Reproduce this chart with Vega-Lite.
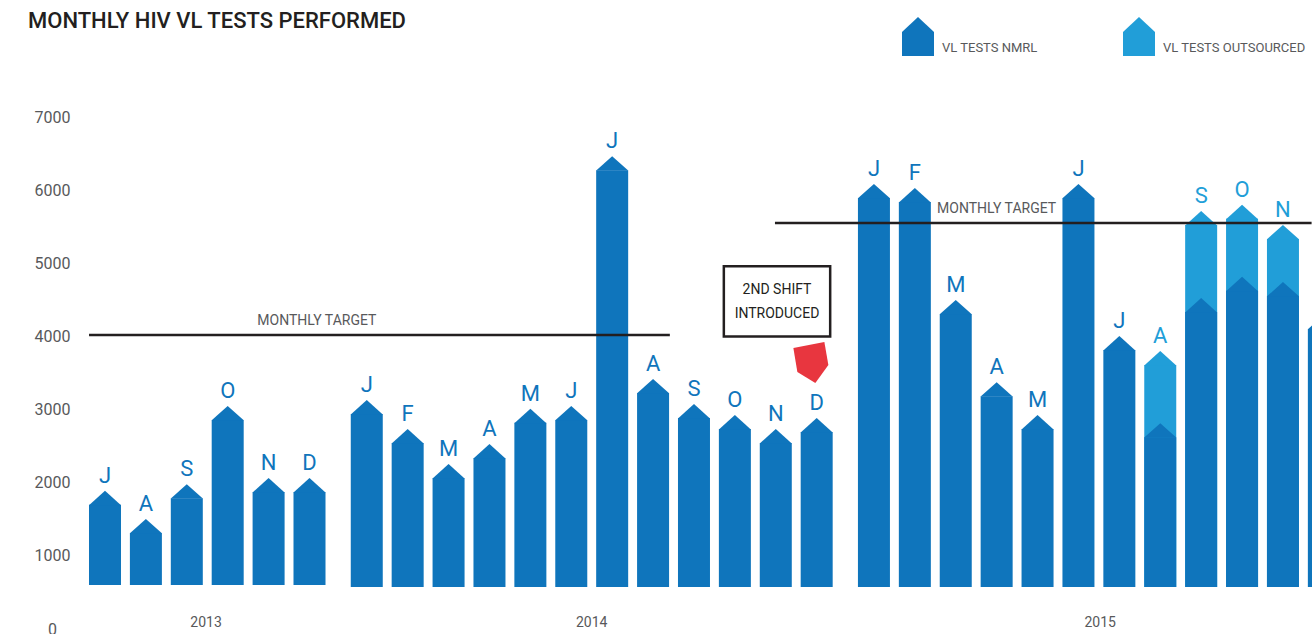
{"$schema":"https://vega.github.io/schema/vega-lite/v6.json","width":1312,"height":634,"padding":0,"autosize":"none","background":"#ffffff",
"config":{"view":{"stroke":null},"font":"Roboto"},
"title":{"text":"MONTHLY HIV VL TESTS PERFORMED","anchor":"start","frame":"group","orient":"top","dx":28,"dy":50,"offset":0,"baseline":"alphabetic","font":"Roboto","fontSize":22,"fontWeight":500,"color":"#231f20"},
"datasets":{
"tests":[
{"year":2015,"slot":25.8,"month":"A","series":"VL TESTS OUTSOURCED","tests":3800,"top":true},
{"year":2015,"slot":26.8,"month":"S","series":"VL TESTS OUTSOURCED","tests":5715,"top":true},
{"year":2015,"slot":27.8,"month":"O","series":"VL TESTS OUTSOURCED","tests":5800,"top":true},
{"year":2015,"slot":28.8,"month":"N","series":"VL TESTS OUTSOURCED","tests":5525,"top":true},
{"year":2013,"slot":0,"month":"J","series":"VL TESTS NMRL","tests":1890,"top":true},
{"year":2013,"slot":1,"month":"A","series":"VL TESTS NMRL","tests":1505,"top":true},
{"year":2013,"slot":2,"month":"S","series":"VL TESTS NMRL","tests":1980,"top":true},
{"year":2013,"slot":3,"month":"O","series":"VL TESTS NMRL","tests":3050,"top":true},
{"year":2013,"slot":4,"month":"N","series":"VL TESTS NMRL","tests":2065,"top":true},
{"year":2013,"slot":5,"month":"D","series":"VL TESTS NMRL","tests":2065,"top":true},
{"year":2014,"slot":6.4,"month":"J","series":"VL TESTS NMRL","tests":3130,"top":true},
{"year":2014,"slot":7.4,"month":"F","series":"VL TESTS NMRL","tests":2735,"top":true},
{"year":2014,"slot":8.4,"month":"M","series":"VL TESTS NMRL","tests":2255,"top":true},
{"year":2014,"slot":9.4,"month":"A","series":"VL TESTS NMRL","tests":2530,"top":true},
{"year":2014,"slot":10.4,"month":"M","series":"VL TESTS NMRL","tests":3010,"top":true},
{"year":2014,"slot":11.4,"month":"J","series":"VL TESTS NMRL","tests":3050,"top":true},
{"year":2014,"slot":12.4,"month":"J","series":"VL TESTS NMRL","tests":6465,"top":true},
{"year":2014,"slot":13.4,"month":"A","series":"VL TESTS NMRL","tests":3420,"top":true},
{"year":2014,"slot":14.4,"month":"S","series":"VL TESTS NMRL","tests":3075,"top":true},
{"year":2014,"slot":15.4,"month":"O","series":"VL TESTS NMRL","tests":2925,"top":true},
{"year":2014,"slot":16.4,"month":"N","series":"VL TESTS NMRL","tests":2735,"top":true},
{"year":2014,"slot":17.4,"month":"D","series":"VL TESTS NMRL","tests":2885,"top":true},
{"year":2015,"slot":18.8,"month":"J","series":"VL TESTS NMRL","tests":6085,"top":true},
{"year":2015,"slot":19.8,"month":"F","series":"VL TESTS NMRL","tests":6030,"top":true},
{"year":2015,"slot":20.8,"month":"M","series":"VL TESTS NMRL","tests":4500,"top":true},
{"year":2015,"slot":21.8,"month":"A","series":"VL TESTS NMRL","tests":3375,"top":true},
{"year":2015,"slot":22.8,"month":"M","series":"VL TESTS NMRL","tests":2925,"top":true},
{"year":2015,"slot":23.8,"month":"J","series":"VL TESTS NMRL","tests":6085,"top":true},
{"year":2015,"slot":24.8,"month":"J","series":"VL TESTS NMRL","tests":4005,"top":true},
{"year":2015,"slot":25.8,"month":"A","series":"VL TESTS NMRL","tests":2815,"top":false},
{"year":2015,"slot":26.8,"month":"S","series":"VL TESTS NMRL","tests":4525,"top":false},
{"year":2015,"slot":27.8,"month":"O","series":"VL TESTS NMRL","tests":4815,"top":false},
{"year":2015,"slot":28.8,"month":"N","series":"VL TESTS NMRL","tests":4745,"top":false},
{"year":2015,"slot":29.8,"month":"D","series":"VL TESTS NMRL","tests":4295,"top":true}
],
"targets":[
{"from":-0.39,"to":13.81,"target":4020},
{"from":16.38,"to":29.5,"target":5550}
],
"notes":[
{"slot":5.18,"value":4210,"text":"MONTHLY TARGET","color":"#58595b"},
{"slot":21.8,"value":5740,"text":"MONTHLY TARGET","color":"#58595b"},
{"slot":2.47,"value":85,"text":"2013","color":"#58595b"},
{"slot":11.9,"value":85,"text":"2014","color":"#58595b"},
{"slot":24.33,"value":85,"text":"2015","color":"#58595b"},
{"slot":16.43,"value":4640,"text":"2ND SHIFT","color":"#231f20"},
{"slot":16.43,"value":4310,"text":"INTRODUCED","color":"#231f20"}
]
},
"data":{"name":"tests"},
"encoding":{
"x":{"field":"slot","type":"quantitative","scale":{"domain":[-2.567,29.51],"nice":false,"zero":false,"padding":0},"axis":null},
"y":{"field":"tests","type":"quantitative","stack":null,"scale":{"domain":[-68,8600],"nice":false,"zero":false},
"axis":{"orient":"left","offset":-60,"values":[0,1000,2000,3000,4000,5000,6000,7000],"format":"d","domain":false,"ticks":false,"grid":false,"title":null,"labelPadding":8,"labelAlign":"center","labelBaseline":"middle","labelFont":"Roboto","labelFontSize":16,"labelColor":"#58595b"}},
"color":{"field":"series","type":"nominal","scale":{"domain":["VL TESTS NMRL","VL TESTS OUTSOURCED"],"range":["#0f75bc","#219ed8"]},
"legend":{"title":null,"orient":"none","direction":"horizontal","legendX":902,"legendY":32,"symbolType":"M0,-1.94L1,-1L1,0.5L-1,0.5L-1,-1Z","symbolSize":1024,"symbolStrokeWidth":0,"labelFont":"Roboto","labelFontSize":13,"labelColor":"#58595b","labelOffset":8,"columnPadding":85,"padding":0,"encoding":{"symbols":{"update":{"shape":{"value":"M0,-1.94L1,-1L1,0.5L-1,0.5L-1,-1Z"},"size":{"value":1024},"strokeWidth":{"value":0},"opacity":{"value":1}}}}}}
},
"layer":[
{"transform":[{"filter":"datum.year==2013"}],"mark":{"type":"bar","width":32,"yOffset":14,"clip":true},
"encoding":{"y2":{"datum":602}}},
{"transform":[{"filter":"datum.year!=2013"}],"mark":{"type":"bar","width":32,"yOffset":14,"clip":true},
"encoding":{"y2":{"datum":574}}},
{"mark":{"type":"point","filled":true,"opacity":1,"strokeWidth":0,"clip":true,"size":1024,"shape":"M-1,0.9L0,0L1,0.9Z"}},
{"transform":[{"filter":"datum.top"}],"mark":{"type":"text","baseline":"alphabetic","align":"center","dy":-8,"fontSize":22,"font":"Roboto","clip":true},
"encoding":{"text":{"field":"month"}}},
{"data":{"name":"targets"},"mark":{"type":"rule","strokeWidth":2.5},
"encoding":{"x":{"field":"from","type":"quantitative"},"x2":{"field":"to"},"y":{"field":"target","type":"quantitative"},"color":{"value":"#231f20"}}},
{"data":{"name":"notes"},"mark":{"type":"text","align":"center","baseline":"middle","font":"Roboto","fontSize":14},
"encoding":{"x":{"field":"slot","type":"quantitative"},"y":{"field":"value","type":"quantitative"},"text":{"field":"text"},"color":{"field":"color","type":"nominal","scale":null,"legend":null}}},
{"data":{"values":[{"a":15.13,"b":17.73,"c":4000,"d":4960}]},"mark":{"type":"rect","filled":false,"strokeWidth":2.5},
"encoding":{"x":{"field":"a","type":"quantitative"},"x2":{"field":"b"},"y":{"field":"c","type":"quantitative"},"y2":{"field":"d"},"color":{"value":"#231f20"}}},
{"data":{"values":[{"slot":17.27,"value":3650}]},"mark":{"type":"point","filled":true,"opacity":1,"strokeWidth":0,"size":1764,"shape":"M-0.857,-0.667L0.619,-0.952L0.81,0.143L0.19,1L-0.667,0.476Z"},
"encoding":{"x":{"field":"slot","type":"quantitative"},"y":{"field":"value","type":"quantitative"},"color":{"value":"#e8363f"}}}
]}
